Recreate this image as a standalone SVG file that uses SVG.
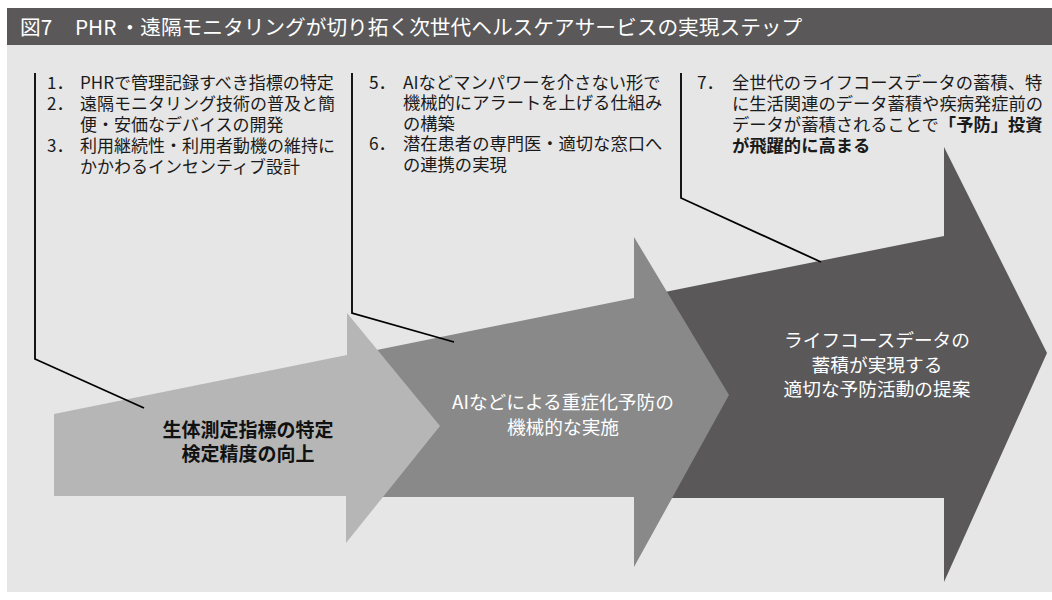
<svg xmlns="http://www.w3.org/2000/svg" width="1052" height="600" viewBox="0 0 1052 600">
<style>
text{font-family:"Noto Sans CJK JP","Noto Sans",sans-serif;}
.title{font-size:20.7px;fill:#ffffff;}
.body{font-size:17px;fill:#1a1a1a;}
.b3{font-size:17.3px;fill:#1a1a1a;}
.lead{fill:none;stroke:#000;stroke-width:1.8;stroke-linejoin:miter;}
.lbl1{font-size:19px;font-weight:bold;fill:#111;text-anchor:middle;}
.lblw{font-size:18.7px;fill:#ffffff;text-anchor:middle;}
</style>
<rect x="0" y="0" width="1052" height="600" fill="#ffffff"/>
<rect id="panel" x="7" y="45" width="1045" height="547" fill="#e6e6e6"/>
<g id="title">
<rect x="7" y="8" width="1045" height="37" fill="#5a5859"/>
<text class="title" y="35.4"><tspan x="20">図7</tspan><tspan x="75">PHR</tspan><tspan x="119.5">・遠隔モニタリングが切り拓く次世代ヘルスケアサービスの実現ステップ</tspan></text>
</g>
<g id="step3">
<polygon points="640,297 944,236 944,147 1047,353 944,582 944,498 640,498" fill="#5a5859"/>
<text class="lblw" x="877" y="347">ライフコースデータの</text>
<text class="lblw" x="877" y="372">蓄積が実現する</text>
<text class="lblw" x="877" y="396">適切な予防活動の提案</text>
</g>
<g id="step2">
<polygon points="352,355 634,298 634,237 729,395 634,567 634,497 352,497" fill="#898989"/>
<text class="lblw" x="563" y="409">AIなどによる重症化予防の</text>
<text class="lblw" x="563" y="434">機械的な実施</text>
</g>
<g id="step1">
<polygon points="54,414 347,355 347,313 440,426 346,543 346,496 54,496" fill="#b5b6b5"/>
<text class="lbl1" x="248" y="437">生体測定指標の特定</text>
<text class="lbl1" x="248" y="461">検定精度の向上</text>
</g>
<g id="note1">
<text class="body" y="88.5"><tspan x="47">1．</tspan><tspan x="80">PHRで管理記録すべき指標の特定</tspan></text>
<text class="body" y="109.5"><tspan x="47">2．</tspan><tspan x="80">遠隔モニタリング技術の普及と簡</tspan></text>
<text class="body" x="80" y="130.5">便・安価なデバイスの開発</text>
<text class="body" y="151.5"><tspan x="47">3．</tspan><tspan x="80">利用継続性・利用者動機の維持に</tspan></text>
<text class="body" x="80" y="172.5">かかわるインセンティブ設計</text>
</g>
<g id="note2">
<text class="b3" y="88.5"><tspan x="369">5．</tspan><tspan x="403">AIなどマンパワーを介さない形で</tspan></text>
<text class="b3" x="403" y="109.1">機械的にアラートを上げる仕組み</text>
<text class="b3" x="403" y="129.7">の構築</text>
<text class="b3" y="150.3"><tspan x="369">6．</tspan><tspan x="403">潜在患者の専門医・適切な窓口へ</tspan></text>
<text class="b3" x="403" y="170.9">の連携の実現</text>
</g>
<g id="note3">
<text class="b3" y="88.5"><tspan x="697">7．</tspan><tspan x="732">全世代のライフコースデータの蓄積、特</tspan></text>
<text class="b3" x="732" y="109.5">に生活関連のデータ蓄積や疾病発症前の</text>
<text class="b3" x="732" y="130.5">データが蓄積されることで<tspan font-weight="bold">「予防」投資</tspan></text>
<text class="b3" x="732" y="151.5" font-weight="bold">が飛躍的に高まる</text>
</g>
<g id="connectors">
<polyline class="lead" points="35,73 35,359 144,408"/>
<polyline class="lead" points="352,73 352,313 454,342"/>
<polyline class="lead" points="681,73 681,198 821,262"/>
</g>
</svg>
